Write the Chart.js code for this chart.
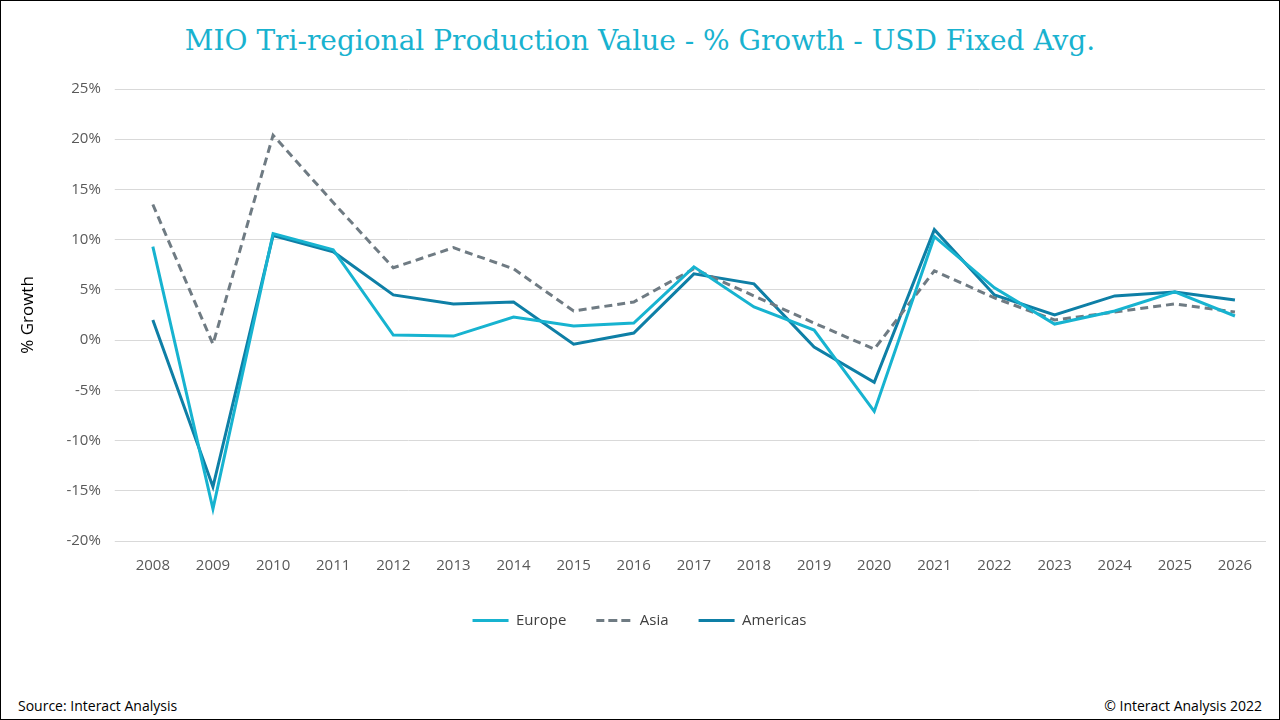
<!DOCTYPE html>
<html>
<head>
<meta charset="utf-8">
<script src="https://cdn.jsdelivr.net/npm/chart.js@4"></script>
<style>
body { margin:0; width:1280px; height:720px; overflow:hidden; background:#fff; font-family:"Open Sans", sans-serif; }
#frame { position:absolute; left:0; top:0; width:1278px; height:718px; border:1px solid #000; }
#title { position:absolute; top:24px; width:1280px; text-align:center; font-family:"DejaVu Serif", serif; font-size:28px; color:#19b2cf; }
#wrap { position:absolute; left:14px; top:66px; width:1256px; height:572px; }
.foot { position:absolute; top:696px; font-size:14px; color:#000; }
</style>
</head>
<body>
<div id="frame"></div>
<div id="title">MIO Tri-regional Production Value - % Growth - USD Fixed Avg.</div>
<div id="wrap"><canvas id="c"></canvas></div>
<div class="foot" style="left:18px">Source: Interact Analysis</div>
<div class="foot" style="right:18px">© Interact Analysis 2022</div>
<script>
const years = ['2008','2009','2010','2011','2012','2013','2014','2015','2016','2017','2018','2019','2020','2021','2022','2023','2024','2025','2026'];
const europe = [9.3, -16.8, 10.6, 9.0, 0.5, 0.4, 2.3, 1.4, 1.7, 7.3, 3.3, 1.0, -7.1, 10.3, 5.2, 1.6, 2.9, 4.8, 2.4];
const asia = [13.5, -0.4, 20.4, 13.7, 7.2, 9.2, 7.1, 2.9, 3.8, 7.1, 4.4, 1.7, -0.9, 6.9, 4.2, 2.0, 2.8, 3.6, 2.8];
const americas = [2.0, -14.6, 10.4, 8.8, 4.5, 3.6, 3.8, -0.4, 0.7, 6.6, 5.6, -0.7, -4.2, 11.0, 4.5, 2.5, 4.4, 4.8, 4.0];

Chart.defaults.font.family = '"Open Sans", sans-serif';
Chart.defaults.color = '#595959';
new Chart(document.getElementById('c'), {
    type: 'line',
    data: {
        labels: years,
        datasets: [
            { label: 'Europe', data: europe, borderColor: '#17b3d0', backgroundColor: '#17b3d0', borderWidth: 3, pointRadius: 0, tension: 0 },
            { label: 'Asia', data: asia, borderColor: '#6f7b83', backgroundColor: '#6f7b83', borderWidth: 3, borderDash: [8, 5], pointRadius: 0, tension: 0 },
            { label: 'Americas', data: americas, borderColor: '#0e7fa6', backgroundColor: '#0e7fa6', borderWidth: 3, pointRadius: 0, tension: 0 }
        ]
    },
    options: {
        responsive: true,
        maintainAspectRatio: false,
        animation: false,
        layout: { padding: { top: 0, right: 5, bottom: 0 } },
        plugins: {
            legend: {
                position: 'bottom',
                labels: { boxWidth: 36, boxHeight: 0, font: { size: 15 }, color: '#404040', padding: 30 }
            }
        },
        scales: {
            x: {
                offset: true,
                grid: { display: false },
                border: { color: '#d9d9d9' },
                ticks: { font: { size: 15 }, padding: 8 }
            },
            y: {
                min: -20, max: 25,
                ticks: { stepSize: 5, font: { size: 15 }, callback: v => v + '%', padding: 14 },
                grid: { color: '#d9d9d9' },
                border: { display: false },
                title: { display: true, text: '% Growth', font: { size: 17 }, color: '#000', padding: { bottom: 14 } }
            }
        }
    }
});
</script>
</body>
</html>
